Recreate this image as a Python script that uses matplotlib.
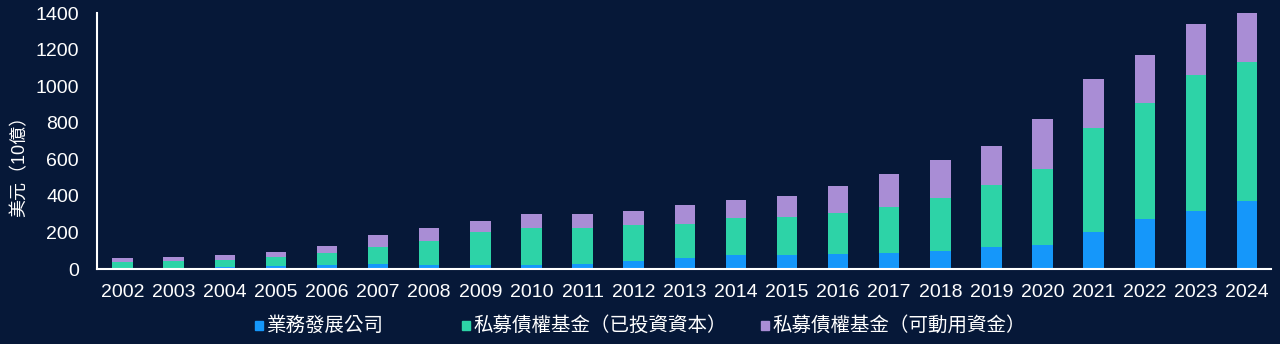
import numpy as np
import matplotlib
matplotlib.use("Agg")
import matplotlib.pyplot as plt
from matplotlib.patches import Rectangle

plt.rcParams['font.family'] = ['Liberation Sans', 'Noto Sans CJK TC', 'DejaVu Sans']

years = [str(y) for y in range(2002, 2025)]
# 10億美元
bdc = [3, 3, 9, 15, 22, 29, 22, 22, 22, 29, 44, 60, 77, 78, 82, 88, 100, 122, 131, 204, 273, 317, 372]
pc_invested = [35, 41, 42, 51, 65, 93, 131, 179, 204, 197, 195, 188, 202, 205, 224, 249, 288, 336, 414, 566, 637, 744, 759]
pc_dry_powder = [22, 23, 26, 25, 38, 62, 69, 60, 73, 73, 80, 102, 97, 114, 150, 183, 206, 217, 274, 271, 262, 281, 269]
series_names = ['業務發展公司', '私募債權基金（已投資資本）', '私募債權基金（可動用資金）']

bg = '#061838'
colors = ['#1597fa', '#2dd3a7', '#a98dd5']

fig = plt.figure(figsize=(12.8, 3.44), dpi=100, facecolor=bg)
ax = fig.add_axes([0.0758, 0.218, 0.9172, 0.744])
ax.set_facecolor(bg)

x = np.arange(len(years))
w = 0.40
bottom = np.zeros(len(years))
for vals, c in zip([bdc, pc_invested, pc_dry_powder], colors):
    ax.bar(x, vals, w, bottom=bottom, color=c, linewidth=0)
    bottom += np.array(vals)

ax.set_xlim(-0.5, 22.47)
ax.set_ylim(0, 1400)
ax.set_yticks(range(0, 1401, 200))
ax.set_xticks(x)
ax.set_xticklabels(years)
ax.tick_params(length=0, colors='white', labelsize=14)
ax.tick_params(axis='y', pad=13)
ax.tick_params(axis='x', pad=11)
for s in ['top', 'right']:
    ax.spines[s].set_visible(False)
for s in ['left', 'bottom']:
    ax.spines[s].set_color('white')
    ax.spines[s].set_linewidth(1.5)

ax.set_ylabel('美元（10億）', color='white', fontsize=13)
ax.yaxis.set_label_coords(-0.058, 0.418)

# legend laid out by hand
leg_x = [255, 462, 761]
for lx, name, c in zip(leg_x, series_names, colors):
    fig.patches.append(Rectangle((lx / 1280, (344 - 330) / 344), 8 / 1280, 9 / 344,
                                 transform=fig.transFigure, color=c, figure=fig))
    fig.text((lx + 12) / 1280, (344 - 325.5) / 344, name, color='white',
             fontsize=14, va='center', ha='left')

fig.savefig('out.png', dpi=100, facecolor=bg)
